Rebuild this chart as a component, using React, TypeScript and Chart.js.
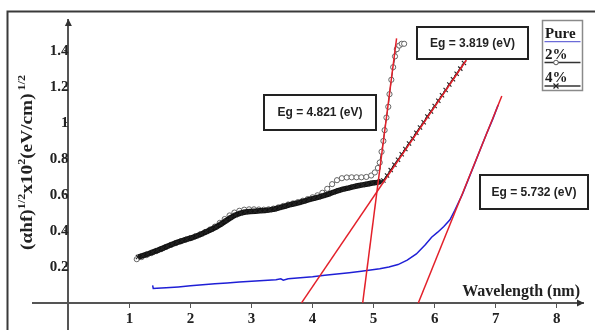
import React, { useEffect, useRef } from 'react';
import { Chart, registerables } from 'chart.js';

Chart.register(...registerables);

// ---------- data ----------
const X_TICKS = [1, 2, 3, 4, 5, 6, 7, 8];
const Y_TICKS = [0.2, 0.4, 0.6, 0.8, 1, 1.2, 1.4];

const SERIES_NAMES = ['Pure', '2%', '4%'];

const PURE_X = [1.38, 1.39, 1.45, 1.6, 1.8, 2.0, 2.2, 2.4, 2.6, 2.8, 3.0, 3.2, 3.4, 3.48, 3.52, 3.6, 3.8, 4.0, 4.2, 4.4, 4.6, 4.8, 4.95, 5.1, 5.25, 5.4, 5.55, 5.7, 5.85, 5.95, 6.05, 6.15, 6.25, 6.33, 6.45, 6.55, 6.65, 6.75, 6.85, 6.95, 7.04];
const PURE_Y = [0.098, 0.08, 0.081, 0.084, 0.089, 0.095, 0.101, 0.106, 0.111, 0.116, 0.12, 0.124, 0.129, 0.134, 0.126, 0.134, 0.14, 0.146, 0.154, 0.161, 0.168, 0.176, 0.183, 0.19, 0.2, 0.213, 0.238, 0.272, 0.325, 0.365, 0.393, 0.425, 0.462, 0.515, 0.6, 0.685, 0.77, 0.855, 0.94, 1.02, 1.1];

const P2_X = [1.12, 1.2, 1.28, 1.36, 1.44, 1.52, 1.6, 1.68, 1.76, 1.84, 1.92, 2.0, 2.08, 2.16, 2.24, 2.32, 2.4, 2.48, 2.56, 2.64, 2.72, 2.8, 2.88, 2.96, 3.04, 3.12, 3.2, 3.28, 3.36, 3.44, 3.52, 3.6, 3.68, 3.76, 3.84, 3.92, 4.0, 4.08, 4.16, 4.24, 4.32, 4.4, 4.48, 4.56, 4.64, 4.72, 4.8, 4.88, 4.96, 5.02, 5.07, 5.1, 5.13, 5.16, 5.18, 5.21, 5.24, 5.26, 5.29, 5.32, 5.35, 5.38, 5.42, 5.46, 5.5];
const P2_Y = [0.243, 0.255, 0.266, 0.277, 0.288, 0.299, 0.311, 0.322, 0.332, 0.342, 0.351, 0.36, 0.37, 0.381, 0.394, 0.408, 0.424, 0.445, 0.466, 0.486, 0.502, 0.512, 0.518, 0.52, 0.52, 0.519, 0.518, 0.52, 0.524, 0.531, 0.539, 0.547, 0.553, 0.56, 0.568, 0.577, 0.587, 0.598, 0.612, 0.634, 0.66, 0.682, 0.693, 0.697, 0.698, 0.698, 0.698, 0.7, 0.708, 0.725, 0.75, 0.78, 0.84, 0.9, 0.96, 1.03, 1.09, 1.16, 1.24, 1.31, 1.37, 1.41, 1.43, 1.44, 1.44];

const P4_X = [1.14, 1.22, 1.3, 1.38, 1.46, 1.54, 1.62, 1.7, 1.78, 1.86, 1.94, 2.02, 2.1, 2.18, 2.26, 2.34, 2.42, 2.5, 2.58, 2.66, 2.74, 2.82, 2.9, 2.98, 3.06, 3.14, 3.22, 3.3, 3.38, 3.46, 3.54, 3.62, 3.7, 3.78, 3.86, 3.94, 4.02, 4.1, 4.18, 4.26, 4.34, 4.42, 4.5, 4.58, 4.66, 4.74, 4.82, 4.9, 4.98, 5.06, 5.12, 5.16, 5.22, 5.28, 5.34, 5.4, 5.46, 5.52, 5.58, 5.64, 5.7, 5.76, 5.82, 5.88, 5.94, 6.0, 6.06, 6.12, 6.18, 6.24, 6.3, 6.36, 6.42, 6.48];
const P4_Y = [0.255, 0.263, 0.272, 0.282, 0.292, 0.303, 0.315, 0.326, 0.336, 0.345, 0.354, 0.362, 0.372, 0.383, 0.395, 0.408, 0.422, 0.438, 0.456, 0.474, 0.489, 0.499, 0.505, 0.508, 0.51, 0.512, 0.514, 0.517, 0.522, 0.529, 0.537, 0.545, 0.551, 0.557, 0.565, 0.574, 0.581, 0.588, 0.596, 0.605, 0.615, 0.624, 0.632, 0.638, 0.645, 0.651, 0.656, 0.661, 0.666, 0.67, 0.675, 0.68, 0.708, 0.738, 0.768, 0.795, 0.826, 0.855, 0.886, 0.914, 0.946, 0.975, 1.004, 1.036, 1.064, 1.094, 1.124, 1.154, 1.183, 1.214, 1.243, 1.274, 1.302, 1.333];

// linear fits (x-intercept = Eg)
const FIT_EG = [4.821, 3.819, 5.732];
const FIT_END_X = [5.376, 6.52, 7.1];
const FIT_END_Y = [1.47, 1.35, 1.15];
const FIT_LABELS = ['Eg = 4.821 (eV)', 'Eg = 3.819 (eV)', 'Eg = 5.732 (eV)'];

const X_TITLE = 'Wavelength (nm)';
const Y_TITLE_PARTS: [string, boolean][] = [
  ['(αhf)', false],
  ['1/2', true],
  ['x10', false],
  ['2', true],
  ['(eV/cm)', false],
  [' 1/2', true],
];

// ---------- styles ----------
const BLUE = '#1f1fd6';
const RED = '#e3202a';
const BLACK = '#111111';
const SERIF = '"Liberation Serif", "Times New Roman", serif';
const SANS = '"Liberation Sans", Arial, sans-serif';
const LABEL_BOXES = [
  { x: 264, y: 95, w: 112, h: 35 },
  { x: 417, y: 27, w: 111, h: 32 },
  { x: 480, y: 175, w: 108, h: 34 },
];

const zip = (xs: number[], ys: number[]) => xs.map((x, i) => ({ x, y: ys[i] }));

const noPad = (s: any) => {
  s.paddingTop = 0;
  s.paddingBottom = 0;
  s.paddingLeft = 0;
  s.paddingRight = 0;
};

const decor = {
  id: 'decor',
  afterDraw(chart: any) {
    const ctx: CanvasRenderingContext2D = chart.ctx;
    const xs = chart.scales.x;
    const ys = chart.scales.y;
    const area = chart.chartArea;
    const x0 = xs.getPixelForValue(0);
    const y0 = ys.getPixelForValue(0);
    ctx.save();

    // outer frame
    ctx.strokeStyle = '#3a3a3a';
    ctx.lineWidth = 2;
    ctx.beginPath();
    ctx.moveTo(7.5, 340);
    ctx.lineTo(7.5, 11.5);
    ctx.lineTo(600, 11.5);
    ctx.stroke();

    // arrow heads
    ctx.fillStyle = '#333';
    ctx.beginPath();
    ctx.moveTo(area.right + 1, y0);
    ctx.lineTo(area.right - 6, y0 - 3.5);
    ctx.lineTo(area.right - 6, y0 + 3.5);
    ctx.closePath();
    ctx.fill();
    ctx.beginPath();
    ctx.moveTo(x0, area.top - 1);
    ctx.lineTo(x0 - 3.5, area.top + 6);
    ctx.lineTo(x0 + 3.5, area.top + 6);
    ctx.closePath();
    ctx.fill();

    // x title
    ctx.fillStyle = '#222';
    ctx.font = `bold 16px ${SERIF}`;
    ctx.textAlign = 'right';
    ctx.textBaseline = 'alphabetic';
    ctx.fillText(X_TITLE, 580, 296);

    // y title (rotated, with superscripts)
    ctx.save();
    ctx.translate(32, 162.5);
    ctx.rotate(-Math.PI / 2);
    const mainFont = `bold 16px ${SERIF}`;
    const supFont = `bold 10px ${SERIF}`;
    const widths = Y_TITLE_PARTS.map(([t, sup]) => {
      ctx.font = sup ? supFont : mainFont;
      return ctx.measureText(t).width;
    });
    const total = widths.reduce((a, b) => a + b, 0);
    ctx.scale(175 / total, 1);
    let cx = -total / 2;
    ctx.textAlign = 'left';
    Y_TITLE_PARTS.forEach(([t, sup], i) => {
      ctx.font = sup ? supFont : mainFont;
      ctx.fillText(t, cx, sup ? -7 : 0);
      cx += widths[i];
    });
    ctx.restore();

    // Eg label boxes
    FIT_LABELS.forEach((label, i) => {
      const b = LABEL_BOXES[i];
      ctx.fillStyle = '#fff';
      ctx.fillRect(b.x, b.y, b.w, b.h);
      ctx.strokeStyle = '#222';
      ctx.lineWidth = 2;
      ctx.strokeRect(b.x, b.y, b.w, b.h);
      ctx.fillStyle = '#222';
      ctx.font = `bold 12px ${SANS}`;
      ctx.textAlign = 'center';
      ctx.textBaseline = 'middle';
      ctx.fillText(label, b.x + b.w / 2, b.y + b.h / 2 + 0.5);
    });

    // legend
    ctx.strokeStyle = '#8a8a8a';
    ctx.lineWidth = 1.5;
    ctx.strokeRect(542.5, 20.5, 40, 70);
    ctx.fillStyle = '#1a1a1a';
    ctx.font = `bold 15px ${SERIF}`;
    ctx.textAlign = 'left';
    ctx.textBaseline = 'alphabetic';
    ctx.fillText(SERIES_NAMES[0], 545, 37.5);
    ctx.fillText(SERIES_NAMES[1], 545, 59);
    ctx.fillText(SERIES_NAMES[2], 545, 81.5);
    ctx.lineWidth = 1.3;
    ctx.strokeStyle = '#6b6bd8';
    ctx.beginPath(); ctx.moveTo(544.5, 41.7); ctx.lineTo(580.5, 41.7); ctx.stroke();
    ctx.strokeStyle = '#333';
    ctx.beginPath(); ctx.moveTo(544.5, 62.5); ctx.lineTo(580.5, 62.5); ctx.stroke();
    ctx.beginPath(); ctx.moveTo(544.5, 86); ctx.lineTo(580.5, 86); ctx.stroke();
    ctx.fillStyle = '#fff';
    ctx.strokeStyle = '#555';
    ctx.lineWidth = 1;
    ctx.beginPath(); ctx.arc(556, 62.5, 2.3, 0, Math.PI * 2); ctx.fill(); ctx.stroke();
    ctx.strokeStyle = '#222';
    ctx.lineWidth = 1.2;
    ctx.beginPath();
    ctx.moveTo(553.5, 83.5); ctx.lineTo(558.5, 88.5);
    ctx.moveTo(558.5, 83.5); ctx.lineTo(553.5, 88.5);
    ctx.stroke();

    ctx.restore();
  },
};

export default function App() {
  const ref = useRef<HTMLCanvasElement>(null);

  useEffect(() => {
    const canvas = ref.current;
    if (!canvas) return;
    const fits = FIT_EG.map((eg, i) => ({
      label: 'fit' + i,
      data: [{ x: eg, y: 0 }, { x: FIT_END_X[i], y: FIT_END_Y[i] }],
      borderColor: RED,
      borderWidth: 1.5,
      pointRadius: 0,
      order: 0,
    }));
    const chart = new Chart(canvas, {
      type: 'line',
      data: {
        datasets: [
          ...fits,
          {
            label: SERIES_NAMES[0],
            data: zip(PURE_X, PURE_Y),
            borderColor: BLUE,
            borderWidth: 1.5,
            pointRadius: 0,
            order: 1,
          },
          {
            label: SERIES_NAMES[2],
            data: zip(P4_X, P4_Y),
            borderColor: BLACK,
            segment: {
              borderWidth: (c: any) => (c.p0.parsed.x < 5.1 ? 5.5 : 1.3),
            },
            borderWidth: 1.3,
            pointStyle: 'crossRot',
            pointRadius: 3,
            pointBorderWidth: 1.1,
            pointBorderColor: '#222',
            order: 2,
          },
          {
            label: SERIES_NAMES[1],
            data: zip(P2_X, P2_Y),
            borderColor: '#333',
            borderWidth: 1,
            pointStyle: 'circle',
            pointRadius: 2.6,
            pointBorderWidth: 0.9,
            pointBorderColor: '#555',
            pointBackgroundColor: '#fff',
            order: 3,
          },
        ] as any,
      },
      options: {
        responsive: false,
        animation: false,
        devicePixelRatio: 1,
        layout: { padding: { left: 33, right: 12, top: 20, bottom: 0 } },
        plugins: { legend: { display: false }, tooltip: { enabled: false } },
        scales: {
          x: {
            type: 'linear',
            min: -0.58,
            max: 8.43,
            position: { y: 0 } as any,
            afterBuildTicks: (s: any) => { s.ticks = X_TICKS.map((v) => ({ value: v })); },
            afterFit: noPad,
            grid: { drawOnChartArea: false, drawTicks: true, tickLength: 4, color: '#555', lineWidth: 1 },
            border: { display: true, color: '#555', width: 2 },
            ticks: {
              padding: 3,
              color: '#222',
              font: { family: SERIF, size: 15, weight: 'bold' },
              callback: (v: any) => String(v),
            },
          },
          y: {
            type: 'linear',
            min: -0.15,
            max: 1.5722,
            position: { x: 0 } as any,
            afterBuildTicks: (s: any) => { s.ticks = Y_TICKS.map((v) => ({ value: v })); },
            afterFit: noPad,
            grid: { drawOnChartArea: false, drawTicks: true, tickLength: 3, color: '#555', lineWidth: 1 },
            border: { display: true, color: '#555', width: 2 },
            ticks: {
              padding: 0,
              color: '#222',
              font: { family: SERIF, size: 15, weight: 'bold' },
              callback: (v: any) => String(v),
            },
          },
        },
      } as any,
      plugins: [decor],
    });
    return () => chart.destroy();
  }, []);

  return (
    <div style={{ position: 'absolute', left: 0, top: 0, width: 595, height: 330, overflow: 'hidden', background: '#fff' }}>
      <canvas ref={ref} width={595} height={335} style={{ display: 'block', width: 595, height: 335 }} />
    </div>
  );
}
